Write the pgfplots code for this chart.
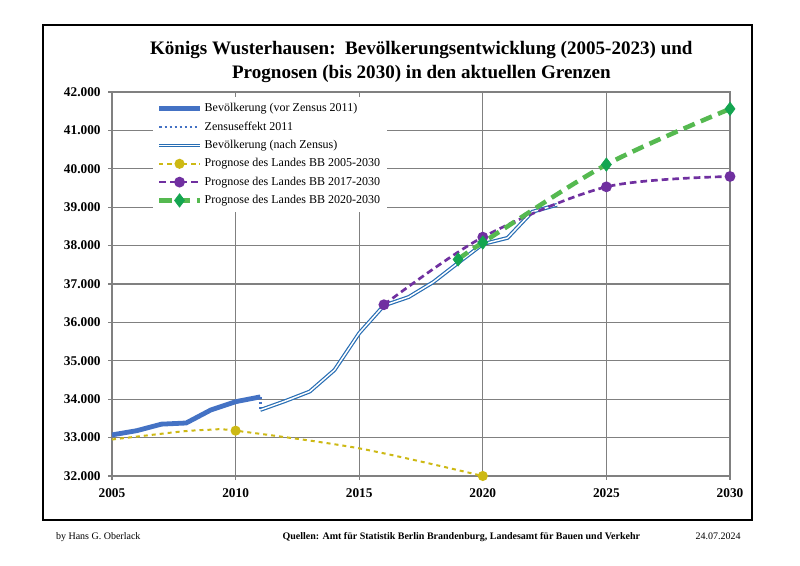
\documentclass[border=0pt]{standalone}
\usepackage{fontspec}
\setmainfont{Liberation Serif}
\usepackage{pgfplots}
\pgfplotsset{compat=1.18}
\definecolor{blueA}{RGB}{68,114,196}
\definecolor{blueB}{RGB}{40,110,180}
\definecolor{yel}{RGB}{205,185,20}
\definecolor{purp}{RGB}{112,48,160}
\definecolor{grn}{RGB}{85,185,80}
\definecolor{grnM}{RGB}{20,165,80}
\definecolor{gridg}{RGB}{128,128,128}
\begin{document}
\begin{tikzpicture}[x=1pt,y=1pt]
\useasboundingbox (0,0) rectangle (600,424.5);
\fill[white] (0,0) rectangle (600,424.5);
\draw[line width=1.3pt] (32.25,34.5) rectangle (564,405.75);
\node[font=\bfseries\fontsize{14.3}{18}\selectfont, align=center] at (316,378) {Königs Wusterhausen:\ \ Bevölkerungsentwicklung (2005-2023) und\\Prognosen (bis 2030) in den aktuellen Grenzen};
\node[font=\fontsize{7.5}{9}\selectfont, anchor=west] at (38.5,22) {by Hans G. Oberlack};
\node[font=\bfseries\fontsize{7.5}{9}\selectfont] at (346,22) {Quellen: Amt für Statistik Berlin Brandenburg, Landesamt für Bauen und Verkehr};
\node[font=\fontsize{7.5}{9}\selectfont, anchor=east] at (559,22) {24.07.2024};
\begin{axis}[
  at={(84pt,67.5pt)}, anchor=south west, scale only axis,
  width=463.5pt, height=288pt,
  xmin=2005, xmax=2030, ymin=32000, ymax=42000,
  xtick={2005,2010,...,2030}, ytick={32000,33000,...,42000},
  grid=major, grid style={gridg, line width=1pt},
  axis line style={gridg, line width=1pt},
  tick style={gridg, line width=1pt}, tick align=outside,
  major tick length=3pt,
  xtick pos=bottom, ytick pos=left,
  /pgf/number format/assume math mode=true,
  xticklabel style={font=\bfseries\fontsize{10}{12}\selectfont, /pgf/number format/1000 sep={}, yshift=-3pt},
  yticklabel style={font=\bfseries\fontsize{10}{12}\selectfont, /pgf/number format/1000 sep={.}, xshift=-2pt},
  scaled ticks=false,
  legend style={at={(0.066,0.988)}, anchor=north west, draw=none, fill=white,
     font=\fontsize{9}{10.5}\selectfont, row sep=2pt, inner sep=3pt},
  legend cell align=left,
  legend image code/.code={\draw[mark repeat=2,mark phase=2] plot coordinates {(0cm,0cm) (0.53cm,0cm) (1.06cm,0cm)};},
]
\addplot[blueA, line width=3.6pt, line join=round] coordinates {
(2005,33070) (2006,33180) (2007,33350) (2008,33380) (2009,33720) (2010,33935) (2011,34060)};
\addlegendentry{Bevölkerung (vor Zensus 2011)}
\addplot[blueA, line width=1.8pt, dotted] coordinates {(2011,34060) (2011,33720)};
\addlegendentry{Zensuseffekt 2011}
\addplot[blueB, line width=0.9pt, double=white, double distance=1.1pt] coordinates {
(2011,33720) (2012,33950) (2013,34200) (2014,34760) (2015,35720) (2016,36440) (2017,36660) (2018,37050) (2019,37550) (2020,38040) (2021,38200) (2022,38880) (2023,39060)};
\addlegendentry{Bevölkerung (nach Zensus)}
\addplot[yel, line width=1.5pt, dashed, smooth, mark=*, mark size=3pt, mark indices={5,7}, mark options={solid, fill=yel},
  legend image code/.code={\draw[mark indices={2}] plot coordinates {(0cm,0cm) (0.53cm,0cm) (1.06cm,0cm)};}] coordinates {
(2005,32950) (2007,33100) (2008,33170) (2009,33205) (2010,33180) (2015,32720) (2020,32000)};
\addlegendentry{Prognose des Landes BB 2005-2030}
\addplot[purp, line width=2pt, dash pattern=on 5pt off 3pt, smooth, mark=*, mark size=3pt, mark options={solid, fill=purp}] coordinates {
(2016,36460) (2020,38220) (2025,39530) (2030,39800)};
\addlegendentry{Prognose des Landes BB 2017-2030}
\addplot[grn, line width=3.4pt, dash pattern=on 9pt off 5pt, smooth, mark=diamond*, mark size=5pt, mark options={solid, fill=grnM, draw=grnM, line width=0.5pt}] coordinates {
(2019,37640) (2020,38080) (2025,40110) (2030,41560)};
\addlegendentry{Prognose des Landes BB 2020-2030}
\end{axis}
\end{tikzpicture}
\end{document}
